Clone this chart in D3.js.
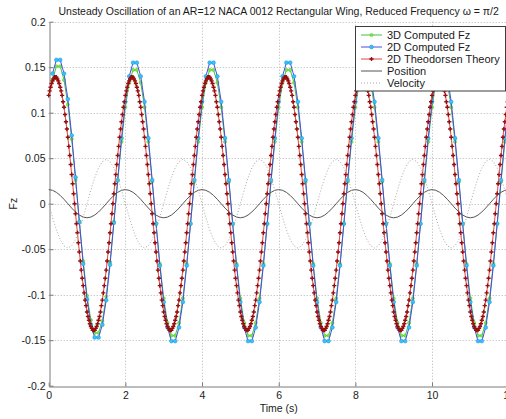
<!DOCTYPE html>
<html>
<head>
<meta charset="utf-8">
<script src="https://cdn.jsdelivr.net/npm/d3@7"></script>
<style>
body { margin: 0; background: #fff; }
svg { display: block; font-family: "Liberation Sans", Arial, sans-serif; }
</style>
</head>
<body>
<div id="chart"></div>
<script>
// chart text
const title = 'Unsteady Oscillation of an AR=12 NACA 0012 Rectangular Wing, Reduced Frequency \u03c9 = \u03c0/2';
const xLabel = 'Time (s)';
const yLabel = 'Fz';
const seriesNames = ['3D Computed Fz', '2D Computed Fz', '2D Theodorsen Theory', 'Position', 'Velocity'];

const xTicks = [0, 2, 4, 6, 8, 10, 12];
const xTickLabels = ['0', '2', '4', '6', '8', '10', '12'];
const yTicks = [-0.2, -0.15, -0.1, -0.05, 0, 0.05, 0.1, 0.15, 0.2];
const yTickLabels = ['-0.2', '-0.15', '-0.1', '-0.05', '0', '0.05', '0.1', '0.15', '0.2'];

// computed forces, sampled every 0.1 s starting at t = 0.1
const fzStart = 0.1;
const fzStep = 0.1;
const fz3d = [
  0.136, 0.151, 0.151, 0.136, 0.109, 0.071, 0.026, -0.020, -0.063, -0.101, -0.128, -0.142, -0.142, -0.129, -0.102, -0.064, -0.020, 0.025, 0.068, 0.106,
  0.133, 0.147, 0.147, 0.133, 0.106, 0.068, 0.024, -0.022, -0.066, -0.104, -0.131, -0.145, -0.145, -0.131, -0.104, -0.066, -0.022, 0.024, 0.068, 0.106,
  0.133, 0.147, 0.147, 0.133, 0.106, 0.068, 0.024, -0.022, -0.066, -0.104, -0.131, -0.145, -0.145, -0.131, -0.104, -0.066, -0.022, 0.024, 0.068, 0.106,
  0.133, 0.147, 0.147, 0.133, 0.106, 0.068, 0.024, -0.022, -0.066, -0.104, -0.131, -0.145, -0.145, -0.131, -0.104, -0.066, -0.022, 0.024, 0.068, 0.106,
  0.133, 0.147, 0.147, 0.133, 0.106, 0.068, 0.024, -0.022, -0.066, -0.104, -0.131, -0.145, -0.145, -0.131, -0.104, -0.066, -0.022, 0.024, 0.068, 0.106,
  0.133, 0.147, 0.147, 0.133, 0.106, 0.068, 0.024, -0.022, -0.066, -0.104, -0.131, -0.145, -0.145, -0.131, -0.104, -0.066, -0.022, 0.024, 0.068, 0.106
];
const fz2d = [
  0.143, 0.158, 0.158, 0.143, 0.115, 0.075, 0.029, -0.020, -0.066, -0.105, -0.133, -0.147, -0.147, -0.133, -0.106, -0.067, -0.021, 0.026, 0.072, 0.112,
  0.140, 0.155, 0.155, 0.140, 0.112, 0.072, 0.026, -0.022, -0.068, -0.108, -0.136, -0.151, -0.151, -0.136, -0.108, -0.068, -0.022, 0.026, 0.072, 0.112,
  0.140, 0.155, 0.155, 0.140, 0.112, 0.072, 0.026, -0.022, -0.068, -0.108, -0.136, -0.151, -0.151, -0.136, -0.108, -0.068, -0.022, 0.026, 0.072, 0.112,
  0.140, 0.155, 0.155, 0.140, 0.112, 0.072, 0.026, -0.022, -0.068, -0.108, -0.136, -0.151, -0.151, -0.136, -0.108, -0.068, -0.022, 0.026, 0.072, 0.112,
  0.140, 0.155, 0.155, 0.140, 0.112, 0.072, 0.026, -0.022, -0.068, -0.108, -0.136, -0.151, -0.151, -0.136, -0.108, -0.068, -0.022, 0.026, 0.072, 0.112,
  0.140, 0.155, 0.155, 0.140, 0.112, 0.072, 0.026, -0.022, -0.068, -0.108, -0.136, -0.151, -0.151, -0.136, -0.108, -0.068, -0.022, 0.026, 0.072, 0.112
];

// Theodorsen theory, sampled every 0.025 s from t = 0
const theoStep = 0.025;
const fzTheodorsen = [
  0.119,0.124,0.128,0.132,0.135,0.137,0.139,0.139,0.139,0.137,0.135,0.132,0.128,0.124,0.119,0.112,0.106,0.098,0.090,0.082,0.073,0.063,0.053,0.043,0.032,0.022,0.011,0.000,-0.011,-0.022,-0.032,-0.043,-0.053,-0.063,-0.073,-0.082,-0.090,-0.098,-0.106,-0.112,-0.119,-0.124,-0.128,-0.132,-0.135,-0.137,-0.139,-0.139,-0.139,-0.137,-0.135,-0.132,-0.128,-0.124,-0.119,-0.112,-0.106,-0.098,-0.090,-0.082,-0.073,-0.063,-0.053,-0.043,-0.032,-0.022,-0.011,0.000,0.011,0.022,0.032,0.043,0.053,0.063,0.073,0.082,0.090,0.098,0.106,0.112,
  0.119,0.124,0.128,0.132,0.135,0.137,0.139,0.139,0.139,0.137,0.135,0.132,0.128,0.124,0.119,0.112,0.106,0.098,0.090,0.082,0.073,0.063,0.053,0.043,0.032,0.022,0.011,0.000,-0.011,-0.022,-0.032,-0.043,-0.053,-0.063,-0.073,-0.082,-0.090,-0.098,-0.106,-0.112,-0.119,-0.124,-0.128,-0.132,-0.135,-0.137,-0.139,-0.139,-0.139,-0.137,-0.135,-0.132,-0.128,-0.124,-0.119,-0.112,-0.106,-0.098,-0.090,-0.082,-0.073,-0.063,-0.053,-0.043,-0.032,-0.022,-0.011,0.000,0.011,0.022,0.032,0.043,0.053,0.063,0.073,0.082,0.090,0.098,0.106,0.112,
  0.119,0.124,0.128,0.132,0.135,0.137,0.139,0.139,0.139,0.137,0.135,0.132,0.128,0.124,0.119,0.112,0.106,0.098,0.090,0.082,0.073,0.063,0.053,0.043,0.032,0.022,0.011,0.000,-0.011,-0.022,-0.032,-0.043,-0.053,-0.063,-0.073,-0.082,-0.090,-0.098,-0.106,-0.112,-0.119,-0.124,-0.128,-0.132,-0.135,-0.137,-0.139,-0.139,-0.139,-0.137,-0.135,-0.132,-0.128,-0.124,-0.119,-0.112,-0.106,-0.098,-0.090,-0.082,-0.073,-0.063,-0.053,-0.043,-0.032,-0.022,-0.011,0.000,0.011,0.022,0.032,0.043,0.053,0.063,0.073,0.082,0.090,0.098,0.106,0.112,
  0.119,0.124,0.128,0.132,0.135,0.137,0.139,0.139,0.139,0.137,0.135,0.132,0.128,0.124,0.119,0.112,0.106,0.098,0.090,0.082,0.073,0.063,0.053,0.043,0.032,0.022,0.011,0.000,-0.011,-0.022,-0.032,-0.043,-0.053,-0.063,-0.073,-0.082,-0.090,-0.098,-0.106,-0.112,-0.119,-0.124,-0.128,-0.132,-0.135,-0.137,-0.139,-0.139,-0.139,-0.137,-0.135,-0.132,-0.128,-0.124,-0.119,-0.112,-0.106,-0.098,-0.090,-0.082,-0.073,-0.063,-0.053,-0.043,-0.032,-0.022,-0.011,0.000,0.011,0.022,0.032,0.043,0.053,0.063,0.073,0.082,0.090,0.098,0.106,0.112,
  0.119,0.124,0.128,0.132,0.135,0.137,0.139,0.139,0.139,0.137,0.135,0.132,0.128,0.124,0.119,0.112,0.106,0.098,0.090,0.082,0.073,0.063,0.053,0.043,0.032,0.022,0.011,0.000,-0.011,-0.022,-0.032,-0.043,-0.053,-0.063,-0.073,-0.082,-0.090,-0.098,-0.106,-0.112,-0.119,-0.124,-0.128,-0.132,-0.135,-0.137,-0.139,-0.139,-0.139,-0.137,-0.135,-0.132,-0.128,-0.124,-0.119,-0.112,-0.106,-0.098,-0.090,-0.082,-0.073,-0.063,-0.053,-0.043,-0.032,-0.022,-0.011,0.000,0.011,0.022,0.032,0.043,0.053,0.063,0.073,0.082,0.090,0.098,0.106,0.112,
  0.119,0.124,0.128,0.132,0.135,0.137,0.139,0.139,0.139,0.137,0.135,0.132,0.128,0.124,0.119,0.112,0.106,0.098,0.090,0.082,0.073,0.063,0.053,0.043,0.032,0.022,0.011,0.000,-0.011,-0.022,-0.032,-0.043,-0.053,-0.063,-0.073,-0.082,-0.090,-0.098,-0.106,-0.112,-0.119,-0.124,-0.128,-0.132,-0.135,-0.137,-0.139,-0.139,-0.139,-0.137,-0.135,-0.132,-0.128,-0.124,-0.119,-0.112,-0.106,-0.098,-0.090,-0.082,-0.073,-0.063,-0.053,-0.043,-0.032,-0.022,-0.011,0.000,0.011,0.022,0.032,0.043,0.053,0.063,0.073,0.082,0.090,0.098,0.106,0.112,
  0.119
];

// wing motion, sampled every 0.1 s from t = 0
const motionStep = 0.1;
const position = [
  0.0155, 0.0147, 0.0125, 0.0091, 0.0048, 0, -0.0048, -0.0091, -0.0125, -0.0147, -0.0155, -0.0147, -0.0125, -0.0091, -0.0048, 0, 0.0048, 0.0091, 0.0125, 0.0147,
  0.0155, 0.0147, 0.0125, 0.0091, 0.0048, 0, -0.0048, -0.0091, -0.0125, -0.0147, -0.0155, -0.0147, -0.0125, -0.0091, -0.0048, 0, 0.0048, 0.0091, 0.0125, 0.0147,
  0.0155, 0.0147, 0.0125, 0.0091, 0.0048, 0, -0.0048, -0.0091, -0.0125, -0.0147, -0.0155, -0.0147, -0.0125, -0.0091, -0.0048, 0, 0.0048, 0.0091, 0.0125, 0.0147,
  0.0155, 0.0147, 0.0125, 0.0091, 0.0048, 0, -0.0048, -0.0091, -0.0125, -0.0147, -0.0155, -0.0147, -0.0125, -0.0091, -0.0048, 0, 0.0048, 0.0091, 0.0125, 0.0147,
  0.0155, 0.0147, 0.0125, 0.0091, 0.0048, 0, -0.0048, -0.0091, -0.0125, -0.0147, -0.0155, -0.0147, -0.0125, -0.0091, -0.0048, 0, 0.0048, 0.0091, 0.0125, 0.0147,
  0.0155, 0.0147, 0.0125, 0.0091, 0.0048, 0, -0.0048, -0.0091, -0.0125, -0.0147, -0.0155, -0.0147, -0.0125, -0.0091, -0.0048, 0, 0.0048, 0.0091, 0.0125, 0.0147,
  0.0155
];
const velocity = [
  0, -0.0150, -0.0286, -0.0394, -0.0463, -0.0487, -0.0463, -0.0394, -0.0286, -0.0150, 0, 0.0150, 0.0286, 0.0394, 0.0463, 0.0487, 0.0463, 0.0394, 0.0286, 0.0150,
  0, -0.0150, -0.0286, -0.0394, -0.0463, -0.0487, -0.0463, -0.0394, -0.0286, -0.0150, 0, 0.0150, 0.0286, 0.0394, 0.0463, 0.0487, 0.0463, 0.0394, 0.0286, 0.0150,
  0, -0.0150, -0.0286, -0.0394, -0.0463, -0.0487, -0.0463, -0.0394, -0.0286, -0.0150, 0, 0.0150, 0.0286, 0.0394, 0.0463, 0.0487, 0.0463, 0.0394, 0.0286, 0.0150,
  0, -0.0150, -0.0286, -0.0394, -0.0463, -0.0487, -0.0463, -0.0394, -0.0286, -0.0150, 0, 0.0150, 0.0286, 0.0394, 0.0463, 0.0487, 0.0463, 0.0394, 0.0286, 0.0150,
  0, -0.0150, -0.0286, -0.0394, -0.0463, -0.0487, -0.0463, -0.0394, -0.0286, -0.0150, 0, 0.0150, 0.0286, 0.0394, 0.0463, 0.0487, 0.0463, 0.0394, 0.0286, 0.0150,
  0, -0.0150, -0.0286, -0.0394, -0.0463, -0.0487, -0.0463, -0.0394, -0.0286, -0.0150, 0, 0.0150, 0.0286, 0.0394, 0.0463, 0.0487, 0.0463, 0.0394, 0.0286, 0.0150,
  0
];

drawChart();

function drawChart() {
  const width = 506;
  const height = 419;

  const svg = d3.select('#chart')
    .append('svg')
    .attr('width', width)
    .attr('height', height);

  const scaleX = d3.scaleLinear()
    .domain([0, 12])
    .range([48.7, 508.7]);

  const scaleY = d3.scaleLinear()
    .domain([-0.2, 0.2])
    .range([385.7, 21.7]);

  const x0 = scaleX(0), x1 = scaleX(12);
  const yTop = scaleY(0.2), yBot = scaleY(-0.2);

  // dotted grid
  const grid = svg.append('g')
    .attr('stroke', '#b4b4b4')
    .attr('stroke-width', 1)
    .attr('stroke-dasharray', '1,2');

  grid.selectAll('.gx')
    .data(xTicks.slice(1))
    .join('line')
    .attr('x1', d => Math.round(scaleX(d)) + 0.5)
    .attr('x2', d => Math.round(scaleX(d)) + 0.5)
    .attr('y1', yTop)
    .attr('y2', yBot);

  grid.selectAll('.gy')
    .data(yTicks.slice(1))
    .join('line')
    .attr('x1', x0)
    .attr('x2', x1)
    .attr('y1', d => Math.round(scaleY(d)) + 0.5)
    .attr('y2', d => Math.round(scaleY(d)) + 0.5);

  // axes
  const axisY = d3.axisLeft(scaleY)
    .tickValues(yTicks)
    .tickFormat((d, i) => yTickLabels[i])
    .tickSizeInner(-4)
    .tickSizeOuter(0)
    .tickPadding(4);

  const axisX = d3.axisBottom(scaleX)
    .tickValues(xTicks)
    .tickFormat((d, i) => xTickLabels[i])
    .tickSizeInner(-4)
    .tickSizeOuter(0)
    .tickPadding(5);

  const gy = svg.append('g')
    .attr('transform', `translate(${Math.round(x0) + 0.5}, 0)`)
    .call(axisY);

  const gx = svg.append('g')
    .attr('transform', `translate(0, ${Math.round(yBot) + 0.5})`)
    .call(axisX);

  [gx, gy].forEach(g => {
    g.attr('font-family', null).attr('font-size', null);
    g.select('.domain').attr('stroke', '#7a7a7a');
    g.selectAll('.tick line').attr('stroke', '#7a7a7a');
    g.selectAll('.tick text').attr('fill', '#1a1a1a').style('font-size', '10.5px');
  });

  // series lines
  const lineFrom = (start, step) => d3.line()
    .x((d, i) => scaleX(start + i * step))
    .y(d => scaleY(d));

  const plot = svg.append('g');

  const series = [
    { name: seriesNames[0], values: fz3d, start: fzStart, step: fzStep, color: '#3fc43f', width: 1 },
    { name: seriesNames[1], values: fz2d, start: fzStart, step: fzStep, color: '#4a4ae6', width: 1 },
    { name: seriesNames[2], values: fzTheodorsen, start: 0, step: theoStep, color: '#e35656', width: 1.1 },
    { name: seriesNames[3], values: position, start: 0, step: motionStep, color: '#555555', width: 1 },
    { name: seriesNames[4], values: velocity, start: 0, step: motionStep, color: '#a8a8a8', width: 1, dash: '1,2' }
  ];

  series.forEach((s, k) => {
    plot.append('path')
      .attr('fill', 'none')
      .attr('stroke', s.color)
      .attr('stroke-width', s.width)
      .attr('stroke-dasharray', s.dash || null)
      .attr('d', lineFrom(s.start, s.step)(s.values));

    if (k === 0) {
      plot.append('g').selectAll('circle')
        .data(s.values)
        .join('circle')
        .attr('cx', (d, i) => scaleX(s.start + i * s.step))
        .attr('cy', d => scaleY(d))
        .attr('r', 1.6)
        .attr('fill', '#7be84a')
        .attr('stroke', '#4cc62a')
        .attr('stroke-width', 0.5);
    }
    if (k === 1) {
      plot.append('g').selectAll('circle')
        .data(s.values)
        .join('circle')
        .attr('cx', (d, i) => scaleX(s.start + i * s.step))
        .attr('cy', d => scaleY(d))
        .attr('r', 1.9)
        .attr('fill', '#33c4f5')
        .attr('stroke', '#1d8fe0')
        .attr('stroke-width', 0.5);
    }
    if (k === 2) {
      plot.append('g').selectAll('path')
        .data(s.values)
        .join('path')
        .attr('transform', (d, i) => `translate(${scaleX(s.start + i * s.step)}, ${scaleY(d)})`)
        .attr('d', d3.symbol(d3.symbolCross, 10))
        .attr('fill', '#960f0f');
    }
  });

  // title and axis labels
  svg.append('text')
    .attr('x', (x0 + x1) / 2)
    .attr('y', 15)
    .attr('text-anchor', 'middle')
    .attr('fill', '#1a1a1a')
    .style('font-size', '10.5px')
    .text(title);

  svg.append('text')
    .attr('x', (x0 + x1) / 2)
    .attr('y', 412)
    .attr('text-anchor', 'middle')
    .attr('fill', '#1a1a1a')
    .style('font-size', '10.5px')
    .text(xLabel);

  svg.append('text')
    .attr('transform', `translate(17, ${scaleY(0)}) rotate(-90)`)
    .attr('text-anchor', 'middle')
    .attr('fill', '#1a1a1a')
    .style('font-size', '10.5px')
    .text(yLabel);

  // legend
  const legend = svg.append('g');
  legend.append('rect')
    .attr('x', 355.5)
    .attr('y', 26.5)
    .attr('width', 150)
    .attr('height', 64.5)
    .attr('fill', '#fff')
    .attr('stroke', '#3c3c3c')
    .attr('stroke-width', 1);

  series.forEach((s, k) => {
    const yy = 35 + k * 12;
    const row = legend.append('g');
    row.append('line')
      .attr('x1', 361)
      .attr('x2', 382)
      .attr('y1', yy)
      .attr('y2', yy)
      .attr('stroke', s.color)
      .attr('stroke-width', s.width)
      .attr('stroke-dasharray', s.dash || null);
    if (k === 0) {
      row.append('circle').attr('cx', 371.5).attr('cy', yy).attr('r', 1.6)
        .attr('fill', '#7be84a').attr('stroke', '#4cc62a').attr('stroke-width', 0.5);
    }
    if (k === 1) {
      row.append('circle').attr('cx', 371.5).attr('cy', yy).attr('r', 1.9)
        .attr('fill', '#33c4f5').attr('stroke', '#1d8fe0').attr('stroke-width', 0.5);
    }
    if (k === 2) {
      row.append('path')
        .attr('transform', `translate(371.5, ${yy})`)
        .attr('d', d3.symbol(d3.symbolCross, 10))
        .attr('fill', '#960f0f');
    }
    row.append('text')
      .attr('x', 387)
      .attr('y', yy + 4)
      .attr('fill', '#1a1a1a')
      .style('font-size', '11px')
      .text(s.name);
  });
}
</script>
</body>
</html>
